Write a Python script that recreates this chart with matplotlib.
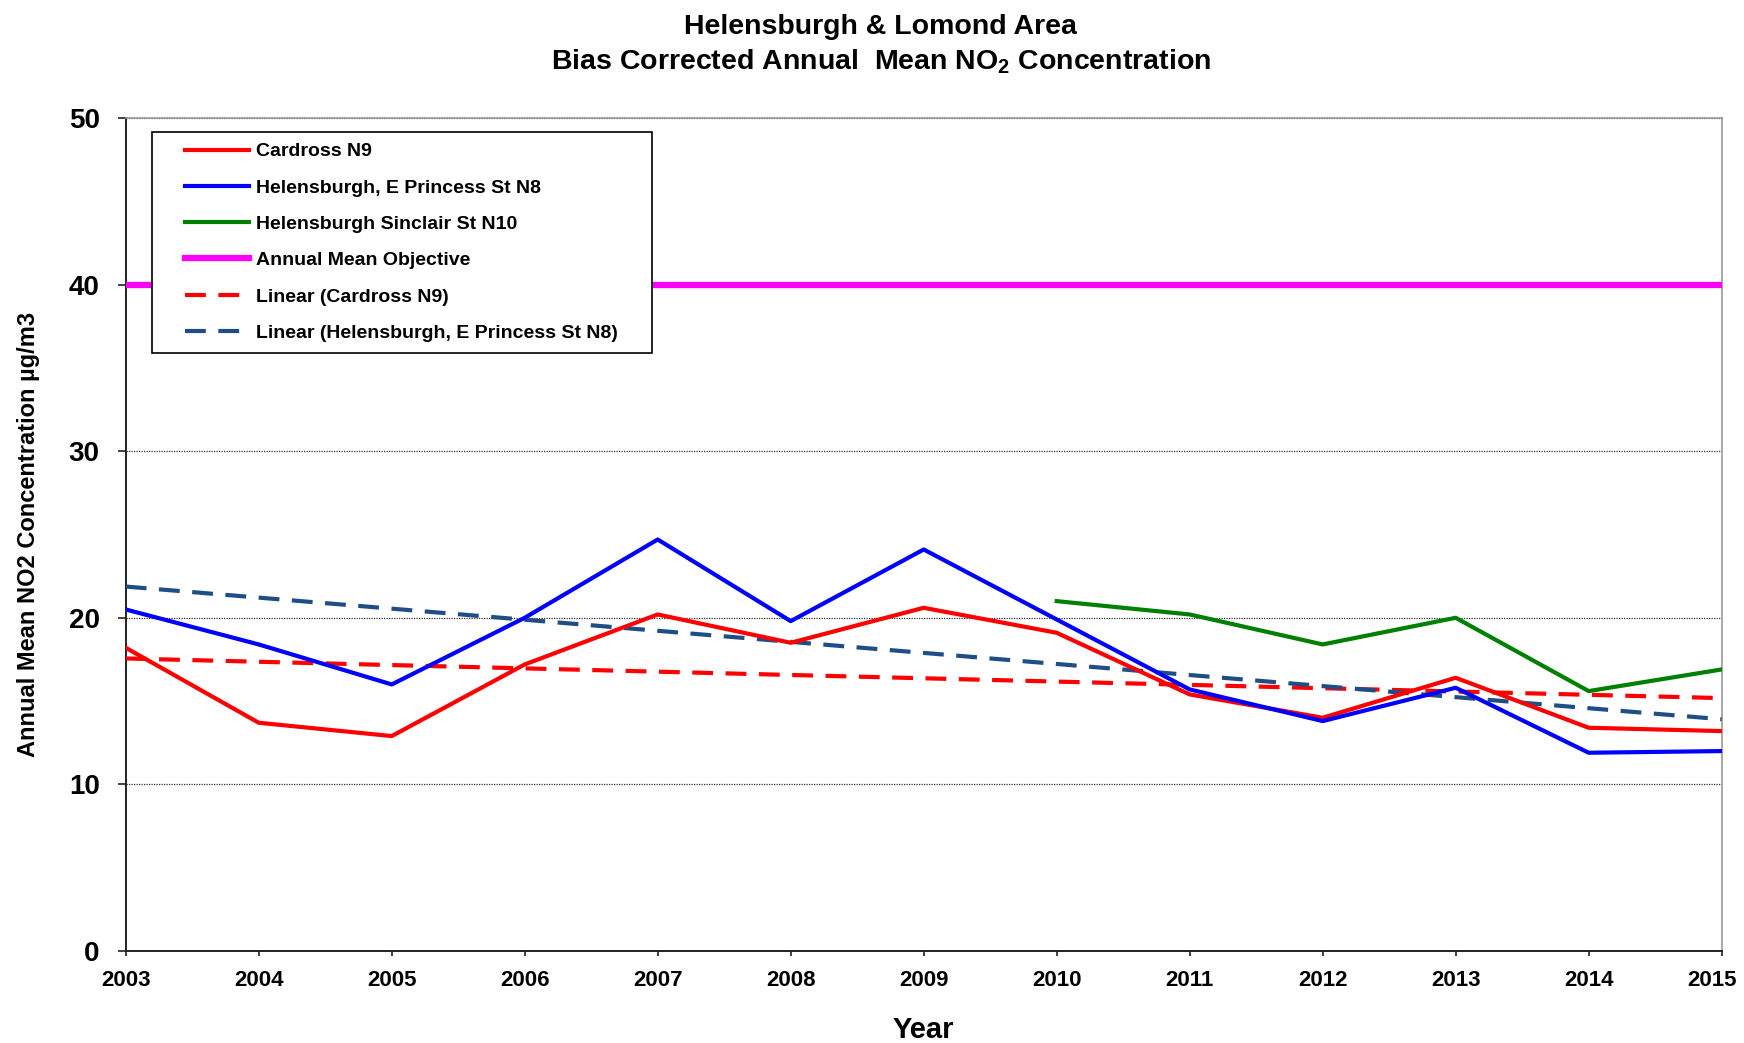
import numpy as np
import matplotlib
matplotlib.use("Agg")
import matplotlib.pyplot as plt
from matplotlib.legend_handler import HandlerLine2D
from matplotlib.transforms import ScaledTranslation

years = [2003, 2004, 2005, 2006, 2007, 2008, 2009, 2010, 2011, 2012, 2013, 2014, 2015]
cardross_n9 = [18.2, 13.7, 12.9, 17.2, 20.2, 18.5, 20.6, 19.1, 15.4, 14.0, 16.4, 13.4, 13.2]
princess_n8 = [20.5, 18.4, 16.0, 20.0, 24.7, 19.8, 24.1, 19.9, 15.7, 13.8, 15.8, 11.9, 12.0]
sinclair_years = [2010, 2011, 2012, 2013, 2014, 2015]
sinclair_n10 = [21.0, 20.2, 18.4, 20.0, 15.6, 16.9]
objective = [40] * len(years)

FONT = ["Liberation Sans", "DejaVu Sans"]


def linear_trend(x, y):
    slope, intercept = np.polyfit(x, y, 1)
    return [slope * v + intercept for v in x]


class InsetLine(HandlerLine2D):
    # legend sample drawn only over the right part of the handle box
    def __init__(self, frac=0.26, **kw):
        super().__init__(**kw)
        self.frac = frac

    def create_artists(self, legend, orig_handle, xdescent, ydescent, width, height, fontsize, trans):
        shift = width * self.frac
        return super().create_artists(legend, orig_handle, xdescent - shift, ydescent,
                                      width - shift, height, fontsize, trans)


fig = plt.figure(figsize=(17.44, 10.43), dpi=100)
ax = fig.add_axes([0.0721, 0.0882, 0.9151, 0.7987])

ax.plot(years, cardross_n9, color="#FF0000", linewidth=3, label="Cardross N9", zorder=4)
ax.plot(years, princess_n8, color="#0000FF", linewidth=3, label="Helensburgh, E Princess St N8", zorder=4)
ax.plot(sinclair_years, sinclair_n10, color="#008000", linewidth=3, label="Helensburgh Sinclair St N10", zorder=4)
ax.plot(years, objective, color="#FF00FF", linewidth=4.5, label="Annual Mean Objective", zorder=3)
ax.plot(years, linear_trend(years, cardross_n9), color="#FF0000", linewidth=3, dashes=(5, 3),
        label="Linear (Cardross N9)", zorder=3)
ax.plot(years, linear_trend(years, princess_n8), color="#1F4E86", linewidth=3, dashes=(5, 3),
        label="Linear (Helensburgh, E Princess St N8)", zorder=3)

ax.set_xlim(2003, 2015)
ax.set_ylim(0, 50)
ax.set_xticks(years)
ax.set_yticks([0, 10, 20, 30, 40, 50])

ax.yaxis.grid(True, linestyle=(0, (1, 1)), color="#333333", linewidth=0.9)
ax.set_axisbelow(True)

for side in ("top", "right"):
    ax.spines[side].set_color("#9a9a9a")
    ax.spines[side].set_linewidth(1.2)
for side in ("left", "bottom"):
    ax.spines[side].set_color("#222222")
    ax.spines[side].set_linewidth(1.4)

ax.tick_params(axis="y", direction="out", length=5.8, width=1.2, color="#222222", pad=13)
ax.tick_params(axis="x", direction="out", length=3.6, width=1.2, color="#222222", pad=10)
for lbl in ax.get_yticklabels():
    lbl.set_fontfamily(FONT)
    lbl.set_fontweight("bold")
    lbl.set_fontsize(20)
for lbl in ax.get_xticklabels():
    lbl.set_fontfamily(FONT)
    lbl.set_fontweight("bold")
    lbl.set_fontsize(16)
# keep the last year label inside the figure
last = ax.get_xticklabels()[-1]
last.set_transform(last.get_transform() + ScaledTranslation(-10 / 100, 0, fig.dpi_scale_trans))

ax.set_xlabel("Year", fontsize=21, fontweight="bold", family=FONT, labelpad=18)
ax.set_ylabel("Annual Mean NO2 Concentration µg/m3", fontsize=17, fontweight="bold", family=FONT)
ax.yaxis.set_label_coords(-0.054, 0.5)

fig.text(0.505, 0.974, "Helensburgh & Lomond Area", ha="center", va="center",
         fontsize=20.5, fontweight="bold", family=FONT)
fig.text(0.505, 0.941, "Bias Corrected Annual  Mean NO$_\\mathregular{2}$ Concentration", ha="center",
         va="center", fontsize=20.5, fontweight="bold", family=FONT)

leg = ax.legend(loc="upper left", bbox_to_anchor=(0.0165, 0.0, 0.3133, 0.983), mode="expand",
                frameon=True, fancybox=False,
                prop={"family": FONT, "weight": "bold", "size": 14}, handlelength=4.45,
                handletextpad=0.36, labelspacing=0.96, borderpad=0.55, borderaxespad=0,
                handler_map={matplotlib.lines.Line2D: InsetLine(frac=0.26)})
leg.get_frame().set_edgecolor("#000000")
leg.get_frame().set_linewidth(1.2)
leg.get_frame().set_alpha(1)
leg.set_zorder(10)

fig.savefig("out.png", dpi=100)
